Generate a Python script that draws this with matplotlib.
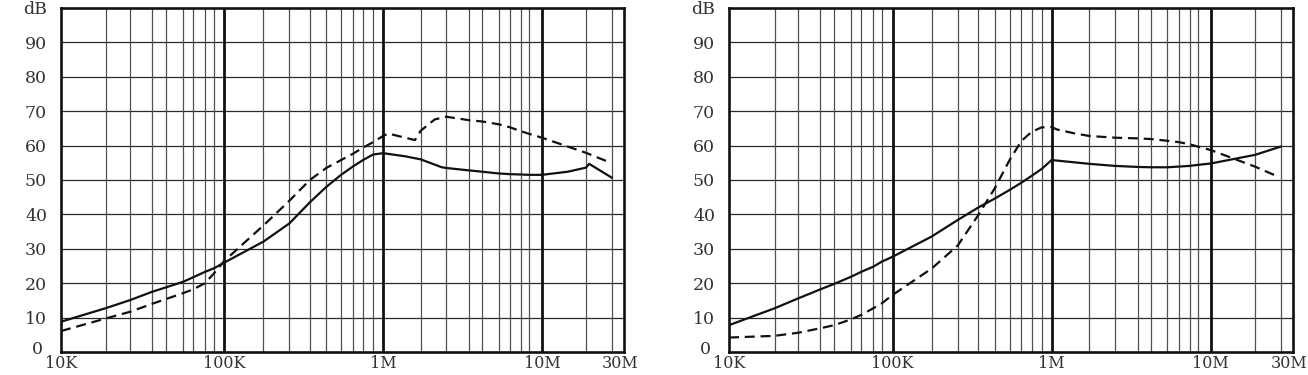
import numpy as np
import matplotlib
matplotlib.use("Agg")
import matplotlib.pyplot as plt
import matplotlib.transforms as mtransforms

# ---------------- data (frequency in Hz, level in dB) ----------------
L_SOLID_F = [1e4, 2e4, 3e4, 4e4, 5e4, 6e4, 7e4, 8e4, 9e4, 1e5, 2e5, 3e5, 4e5, 5e5,
             6e5, 7e5, 8e5, 9e5, 1e6, 1.5e6, 2e6, 2.8e6, 3e6, 4e6, 5e6, 6e6, 7e6,
             8e6, 9e6, 1e7, 1.5e7, 2e7, 2.1e7, 3e7]
L_SOLID_DB = [8.8, 12.8, 15.1, 17.5, 18.8, 20.4, 21.7, 23.3, 24.3, 26.0, 32.1, 37.4,
              43.5, 48.0, 51.5, 53.9, 55.8, 57.4, 57.8, 56.9, 56.0, 53.7, 53.5, 52.8,
              52.4, 51.9, 51.7, 51.6, 51.5, 51.5, 52.4, 53.6, 54.7, 50.7]

L_DASH_F = [1e4, 2e4, 3e4, 4e4, 5e4, 6e4, 7e4, 8e4, 9e4, 1e5, 2e5, 3e5, 4e5, 5e5,
            6e5, 7e5, 8e5, 9e5, 1e6, 1.1e6, 1.8e6, 2e6, 2.5e6, 3e6, 4e6, 5e6, 6e6,
            7e6, 8e6, 9e6, 1e7, 2e7, 2.8e7]
L_DASH_DB = [6.1, 9.8, 11.7, 14.0, 15.4, 17.1, 18.2, 20.0, 22.8, 26.5, 36.8, 44.0,
             50.0, 53.5, 55.8, 57.6, 59.4, 61.0, 62.8, 63.5, 61.6, 64.3, 67.6, 68.4,
             67.4, 67.0, 66.2, 65.3, 64.2, 63.4, 62.3, 57.9, 55.4]

R_SOLID_F = [1e4, 2e4, 3e4, 4e4, 5e4, 6e4, 7e4, 8e4, 9e4, 1e5, 2e5, 3e5, 4e5, 5e5,
             6e5, 7e5, 8e5, 9e5, 1e6, 2e6, 3e6, 4e6, 5e6, 6e6, 7e6, 8e6, 9e6, 1e7,
             2e7, 3e7]
R_SOLID_DB = [7.8, 12.7, 15.6, 18.2, 19.8, 21.9, 23.3, 24.8, 26.3, 27.7, 33.6, 38.4,
              42.0, 44.6, 47.1, 49.2, 51.2, 53.2, 55.8, 54.7, 54.1, 53.8, 53.7, 53.7,
              53.9, 54.1, 54.4, 54.8, 57.3, 59.7]

R_DASH_F = [1e4, 2e4, 3e4, 4e4, 5e4, 6e4, 7e4, 8e4, 9e4, 1e5, 2e5, 3e5, 4e5, 5e5,
            6e5, 7e5, 8e5, 9e5, 1e6, 1.1e6, 1.5e6, 2e6, 3e6, 4e6, 5e6, 6e6, 7e6,
            8e6, 9e6, 1e7, 2e7, 2.8e7]
R_DASH_DB = [4.2, 4.7, 5.6, 6.9, 7.8, 9.5, 10.8, 12.7, 14.2, 16.6, 24.3, 31.0, 39.8,
             47.6, 55.8, 61.3, 64.0, 65.3, 65.4, 64.7, 63.6, 62.8, 62.3, 62.1, 61.9,
             61.4, 61.0, 60.4, 59.7, 58.7, 53.9, 51.2]

Y_TICKS = [0, 10, 20, 30, 40, 50, 60, 70, 80, 90, 100]
Y_LABELS = ['0', '10', '20', '30', '40', '50', '60', '70', '80', '90', 'dB']
X_TICKS = [1e4, 1e5, 1e6, 1e7, 3e7]
X_LABELS = ['10K', '100K', '1M', '10M', '30M']
X_RANGE = (1e4, 3.76e7)
DECADES = [1e5, 1e6, 1e7]

# ---------------- hand-drawn log paper calibration ----------------
GRID_F = [m * 10.0 ** e for e in (4, 5, 6) for m in range(1, 10)] + [1e7, 2e7, 3e7]
CAL_F = [1e3] + GRID_F + [4e7, 1e8]
CAL_P = np.array([-159.0,
                  0.0, 45.5, 69.3, 91.2, 105.2, 122.2, 132.2, 144.2, 153.0,
                  163.6, 202.8, 228.8, 249.2, 265.7, 280.5, 292.2, 302.5, 312.5,
                  322.5, 360.2, 385.7, 408.4, 422.0, 438.3, 449.8, 460.4, 468.9,
                  481.6, 525.8, 551.5, 567.6, 640.6])
CAL_L = np.log10(CAL_F)


def fwd(x):
    x = np.asarray(x, dtype=float)
    lx = np.log10(np.clip(x, 1e-300, None))
    return np.interp(lx, CAL_L, CAL_P)


def inv(p):
    p = np.asarray(p, dtype=float)
    return 10.0 ** np.interp(p, CAL_P, CAL_L)


plt.rcParams['font.family'] = ['DejaVu Serif']

fig = plt.figure(figsize=(13.08, 3.75), dpi=100)
W, H = 1308.0, 375.0
ax1 = fig.add_axes([61 / W, 23 / H, 563.3 / W, 344 / H])
ax2 = fig.add_axes([729 / W, 23 / H, 564.3 / W, 344 / H])

panels = [(ax1, L_SOLID_F, L_SOLID_DB, L_DASH_F, L_DASH_DB),
          (ax2, R_SOLID_F, R_SOLID_DB, R_DASH_F, R_DASH_DB)]

for ax, sf, sd, df, dd in panels:
    ax.set_xscale('function', functions=(fwd, inv))
    ax.set_xlim(*X_RANGE)
    ax.set_ylim(0, 100)

    for y in Y_TICKS[1:-1]:
        ax.axhline(y, color='#2a2a2a', lw=0.9, zorder=1)
    for f in GRID_F[1:]:
        if f in DECADES:
            ax.axvline(f, color='#111111', lw=2.0, zorder=1.5)
        else:
            ax.axvline(f, color='#505050', lw=0.9, zorder=1)

    ax.plot(sf, sd, color='#111111', lw=1.6, zorder=3, solid_joinstyle='round')
    ax.plot(df, dd, color='#111111', lw=1.6, zorder=3, linestyle=(0, (4.5, 2.6)))

    ax.set_yticks(Y_TICKS)
    ax.set_yticklabels(Y_LABELS)
    ax.set_xticks(X_TICKS)
    ax.set_xticklabels(X_LABELS)
    ax.xaxis.set_minor_locator(matplotlib.ticker.NullLocator())
    ax.tick_params(axis='both', length=0, labelcolor='#333333')
    ax.tick_params(axis='y', pad=10, labelsize=12.5)
    ax.tick_params(axis='x', pad=2.5, labelsize=11.5)
    for s in ax.spines.values():
        s.set_linewidth(1.9)
        s.set_color('#111111')
        s.set_zorder(4)

    lab = ax.get_xticklabels()[-1]
    lab.set_transform(lab.get_transform() +
                      mtransforms.ScaledTranslation(6 / 72, 0, fig.dpi_scale_trans))
    ylab0 = ax.get_yticklabels()[0]
    ylab0.set_transform(ylab0.get_transform() +
                        mtransforms.ScaledTranslation(-3 / 72, 3 / 72, fig.dpi_scale_trans))

fig.savefig('out.png', dpi=100)
